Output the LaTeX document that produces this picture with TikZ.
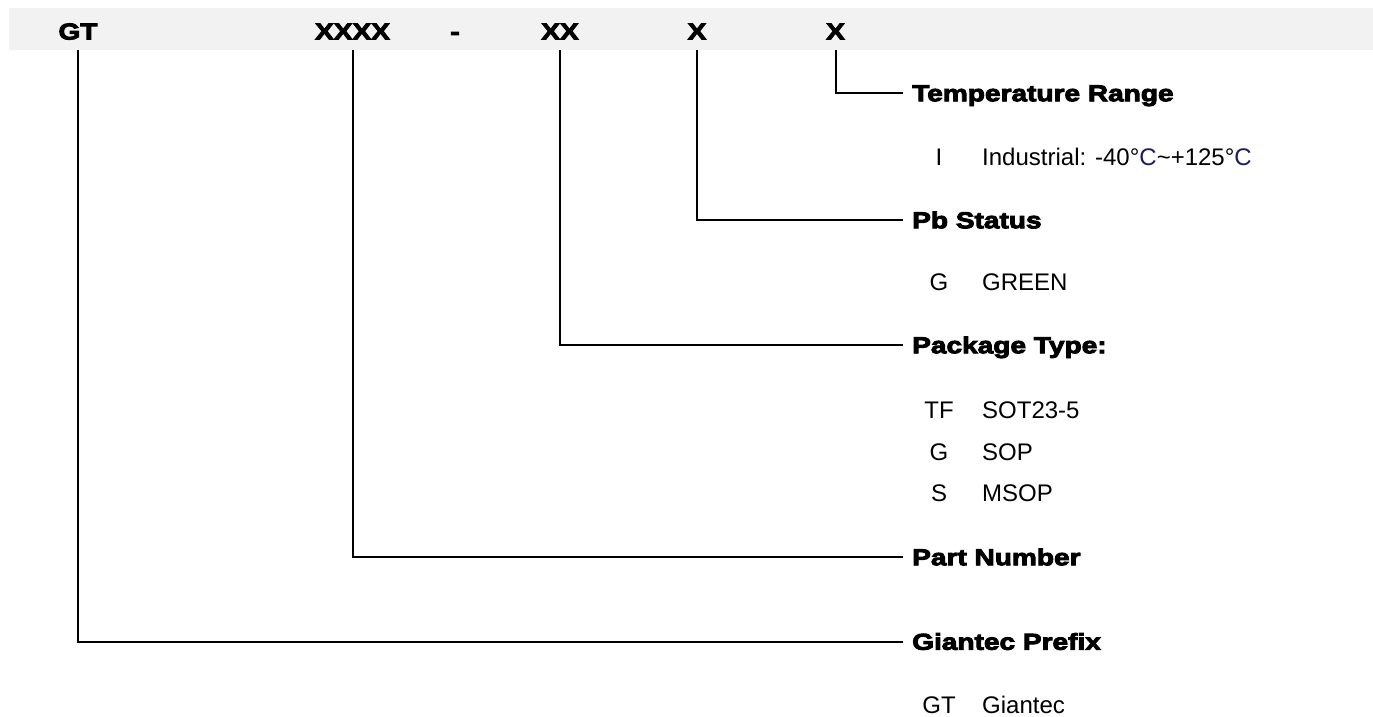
\documentclass[tikz,border=0pt]{standalone}
\usepackage{fontspec}
\setmainfont{Liberation Sans}
\newfontfamily\heavy{Liberation Sans}[FakeStretch=1.22,FakeBold=4]
\definecolor{bandgray}{HTML}{F2F2F2}
\definecolor{degblue}{HTML}{1B1B63}
\begin{document}
\begin{tikzpicture}[x=1pt,y=-1pt,
  hfont/.style={font=\heavy\bfseries\fontsize{23}{27}\selectfont},
  codetxt/.style={hfont, inner sep=0pt, anchor=base},
  headtxt/.style={hfont, inner xsep=9pt, inner ysep=0pt, text height=16.5pt, text depth=0pt, anchor=west},
  keytxt/.style={font=\fontsize{24}{28}\selectfont, inner sep=0pt, anchor=base},
  valtxt/.style={font=\fontsize{24}{28}\selectfont, inner sep=0pt, anchor=base west},
  conn/.style={line width=2pt, line join=miter}]
\useasboundingbox (0,0) rectangle (1373,716);
\node[fill=bandgray, minimum width=1364pt, minimum height=42pt, inner sep=0pt, anchor=north west] (band) at (9,8) {};
% code letters
\node[codetxt] (gt) at (78,39.5) {GT};
\node[codetxt] (pn) at (352.5,39.5) {XXXX};
\node[codetxt] (dash) at (455,39.5) {-};
\node[codetxt] (pk) at (560,39.5) {XX};
\node[codetxt] (pb) at (697,39.5) {X};
\node[codetxt] (tr) at (835.5,39.5) {X};
% headings
\node[headtxt] (trh) at (903,93) {Temperature Range};
\node[headtxt] (pbh) at (903,220) {Pb Status};
\node[headtxt] (pkh) at (903,345) {Package Type:};
\node[headtxt] (pnh) at (903,557) {Part Number};
\node[headtxt] (gth) at (903,641.5) {Giantec Prefix};
% items
\node[keytxt] (k1) at (939,165) {I};
\node[valtxt] (v1) at (982,165) {Industrial: -40°\textcolor{degblue}{C}\textasciitilde+125°\textcolor{degblue}{C}};
\node[keytxt] (k2) at (939,290) {G};
\node[valtxt] (v2) at (982,290) {GREEN};
\node[keytxt] (k3) at (939,418.6) {TF};
\node[valtxt] (v3) at (982,418.6) {SOT23-5};
\node[keytxt] (k4) at (939,460.6) {G};
\node[valtxt] (v4) at (982,460.6) {SOP};
\node[keytxt] (k5) at (939,501.6) {S};
\node[valtxt] (v5) at (982,501.6) {MSOP};
\node[keytxt] (k6) at (939,713.6) {GT};
\node[valtxt] (v6) at (982,713.6) {Giantec};
% connectors
\draw[conn] (tr |- band.south) |- (trh.west);
\draw[conn] (pb |- band.south) |- (pbh.west);
\draw[conn] (pk |- band.south) |- (pkh.west);
\draw[conn] (pn |- band.south) |- (pnh.west);
\draw[conn] (gt |- band.south) |- (gth.west);
\end{tikzpicture}
\end{document}
